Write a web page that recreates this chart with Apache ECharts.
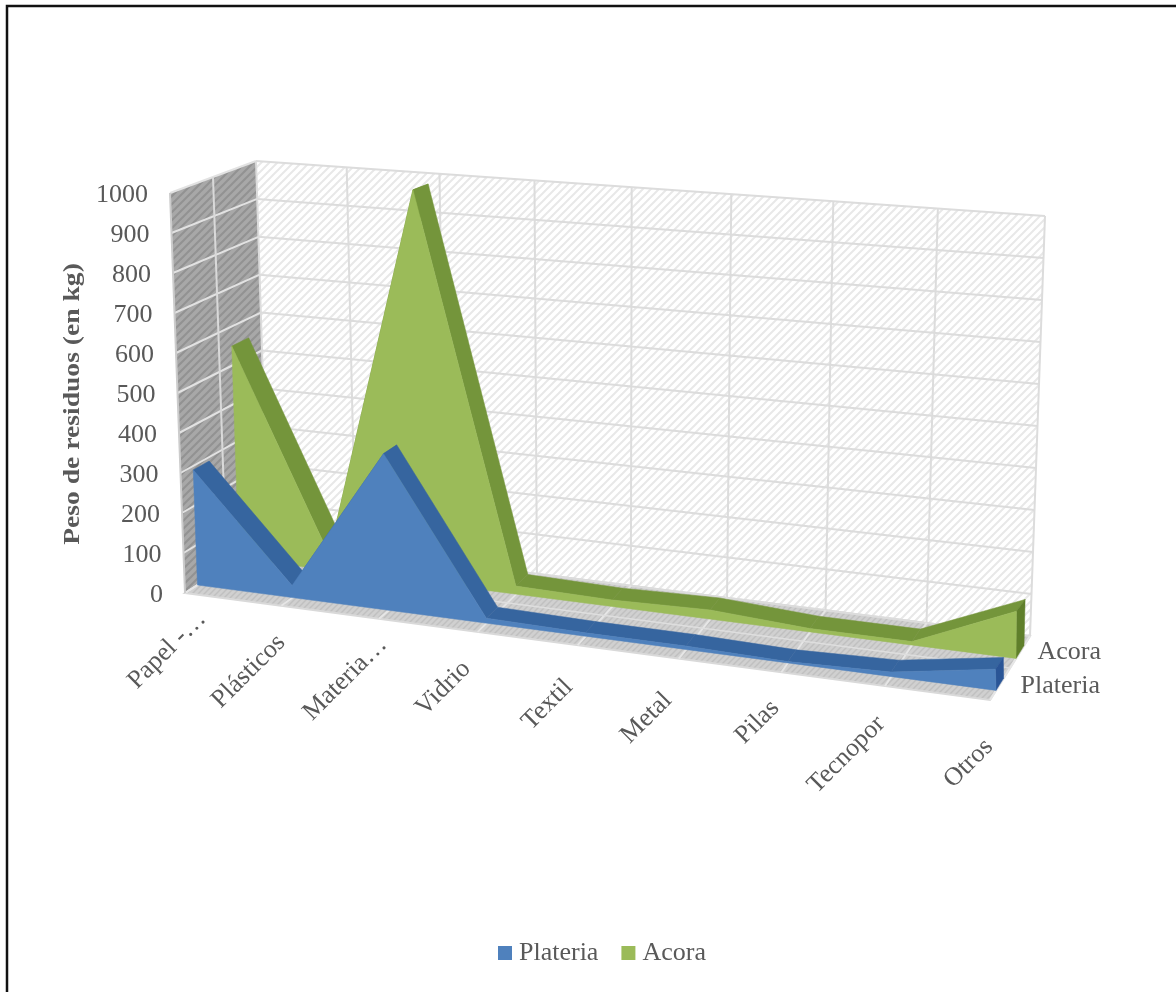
<!DOCTYPE html>
<html><head><meta charset="utf-8">
<style>html,body{margin:0;padding:0;background:#fff}#c{width:1176px;height:992px}</style>
<script src="https://cdn.jsdelivr.net/npm/echarts@6/dist/echarts.min.js"></script>
</head><body><div id="c"></div>
<script>
var categories = ['Papel -…','Plásticos','Materia…','Vidrio','Textil','Metal','Pilas','Tecnopor','Otros'];
var plateria = [290, 30, 380, 12, 8, 8, 3, 10, 46];
var acora = [550, 40, 985, 20, 16, 22, 8, 8, 108];
var yTicks = [0,100,200,300,400,500,600,700,800,900,1000];
var depthLabels = ['Plateria','Acora'];

var FONT='"Liberation Serif", serif', TXT='#595959';
var G={left:170,top:194,width:800,height:400};
var C={flb:[185,593],flt:[170,193],blb:[268,540],blt:[256,161],frb:[990,700],frt:[973,232],brb:[1030,636],brt:[1045,216]};
function lerp(a,b,t){return [a[0]+(b[0]-a[0])*t,a[1]+(b[1]-a[1])*t];}
function proj(u,v,w){
  var k=1.05+0.05*w, s=u/(u+k*(1-u));
  var lb=lerp(C.flb,C.blb,w), lt=lerp(C.flt,C.blt,w), rb=lerp(C.frb,C.brb,w), rt=lerp(C.frt,C.brt,w);
  return lerp(lerp(lb,rb,s),lerp(lt,rt,s),v);
}
function norm(p){return [(p[0]-G.left)/G.width,(G.top+G.height-p[1])/G.height];}
function P(api,i,val,w){var n=norm(api.coord([i,val]));return proj(n[0],n[1],w);}
function hatch(bg,fg,size,lw){
  var c=document.createElement('canvas');c.width=c.height=size;var x=c.getContext('2d');
  x.fillStyle=bg;x.fillRect(0,0,size,size);x.strokeStyle=fg;x.lineWidth=lw;
  x.beginPath();x.moveTo(-2,size+2);x.lineTo(size+2,-2);x.moveTo(-2,2);x.lineTo(2,-2);x.moveTo(size-2,size+2);x.lineTo(size+2,size-2);x.stroke();
  return {image:c,repeat:'repeat'};
}
var wallFill=hatch('#ffffff','#e8e8e8',8,2), sideFill=hatch('#a8a8a8','#929292',8,2), floorFill=hatch('#d0d0d0','#c0c0c0',6,1.5);
function poly(pts,fill,stroke,lw){return {type:'polygon',shape:{points:pts},style:{fill:fill,stroke:stroke||null,lineWidth:lw||0}};}
function line(a,b,col,lw){return {type:'line',shape:{x1:a[0],y1:a[1],x2:b[0],y2:b[1]},style:{stroke:col,lineWidth:lw,fill:null}};}
function text(t,x,y,o){o=o||{};return {type:'text',x:x,y:y,rotation:o.r||0,scaleX:o.sx||1,style:{text:t,x:0,y:0,fill:TXT,font:(o.b?'bold ':'')+(o.s||26)+'px '+FONT,textAlign:o.a||'right',textVerticalAlign:'middle'}};}

var labelShift=[[17,22],[0,33],[4,22],[-11,33],[-9,38],[-11,38],[-6,32],[-4,34],[-1,43]];
function renderFrame(params,api){
  if(params.dataIndex!==0) return null;
  var ch=[], n=categories.length-1;
  function p(i,val,w){return P(api,i,val,w);}
  ch.push(poly([p(0,0,1),p(n,0,1),p(n,1000,1),p(0,1000,1)],wallFill));
  ch.push(poly([p(0,0,0),p(0,0,1),p(0,1000,1),p(0,1000,0)],sideFill));
  ch.push(poly([p(0,0,0),p(n,0,0),p(n,0,1),p(0,0,1)],floorFill,'#d9d9d9',2));
  yTicks.forEach(function(t){
    ch.push(line(p(0,t,1),p(n,t,1),'#dcdcdc',2));
    ch.push(line(p(0,t,0),p(0,t,1),'#e2e2e2',2));
    var q=p(0,t,0);
    ch.push(text(String(t),148+(1000-t)*0.015,q[1]+2));
  });
  categories.forEach(function(c,i){
    ch.push(line(p(i,0,1),p(i,1000,1),'#dcdcdc',2));
    ch.push(line(p(i,0,0),p(i,0,1),'#e6e6e6',2));
    var q=p(i,0,0),s=labelShift[i];
    ch.push(text(c,q[0]+s[0],q[1]+s[1],{r:Math.PI/4}));
  });
  ch.push(line(p(0,0,0.5),p(0,1000,0.5),'#d9d9d9',2));
  ch.push(line(p(0,0,0.5),p(n,0,0.5),'#dedede',1.5));
  ch.push(line(p(0,1000,0),p(0,0,0),'#cccccc',2));
  ch.push(text('Peso de residuos (en kg)',73,404,{r:Math.PI/2,b:1,a:'center',s:23,sx:1.2}));
  ch.push(text(depthLabels[1],1101,652));
  ch.push(text(depthLabels[0],1100,686));
  ch.push({type:'polyline',shape:{points:[[7,1000],[7,6],[1176,6]]},style:{stroke:'#111',lineWidth:2.5,fill:null}});
  return {type:'group',children:ch};
}
function areaRenderer(vals,w0,w1,front,band,end){
  return function(params,api){
    var i=params.dataIndex,n=vals.length-1,ch=[];
    if(i<n){
      ch.push(poly([P(api,i,vals[i],w0),P(api,i+1,vals[i+1],w0),P(api,i+1,vals[i+1],w1),P(api,i,vals[i],w1)],band,band,0.5));
    } else {
      ch.push(poly([P(api,n,0,w0),P(api,n,0,w1),P(api,n,vals[n],w1),P(api,n,vals[n],w0)],end,end,0.5));
      var pts=[];
      vals.forEach(function(v,j){pts.push(P(api,j,v,w0));});
      pts.push(P(api,n,0,w0));pts.push(P(api,0,0,w0));
      ch.push(poly(pts,front,front,0.5));
    }
    return {type:'group',children:ch};
  };
}
function asData(a){return a.map(function(v,i){return [i,v];});}
var chart=echarts.init(document.getElementById('c'),null,{renderer:'canvas'});
chart.setOption({
  animation:false,backgroundColor:'#fff',
  grid:G,
  xAxis:{type:'category',data:categories,boundaryGap:false,show:false},
  yAxis:{type:'value',min:0,max:1000,interval:100,show:false},
  legend:{data:depthLabels,top:935,left:493,icon:'rect',itemWidth:14,itemHeight:14,itemGap:23,
    textStyle:{fontFamily:FONT,fontSize:26,color:TXT,padding:[0,0,0,2]},selectedMode:false},
  tooltip:{show:false},
  series:[
   {type:'custom',name:'frame',z:1,silent:true,clip:false,data:asData(yTicks.map(function(){return 0;})),encode:{x:0,y:1},renderItem:renderFrame},
   {type:'custom',name:'Plateria',z:4,silent:true,clip:false,itemStyle:{color:'#4f81bd'},data:asData(plateria),encode:{x:0,y:1},
     renderItem:areaRenderer(plateria,0.15,0.34,'#4f81bd','#36659f','#2a5596')},
   {type:'custom',name:'Acora',z:3,silent:true,clip:false,itemStyle:{color:'#9bbb59'},data:asData(acora),encode:{x:0,y:1},
     renderItem:areaRenderer(acora,0.65,0.85,'#9bbb59','#74953b','#5f7f2b')}
  ]
});
</script></body></html>
